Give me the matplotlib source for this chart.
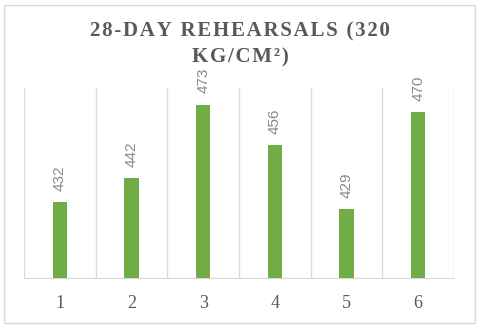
import matplotlib.pyplot as plt
from matplotlib.patches import Rectangle

# data
categories = ["1", "2", "3", "4", "5", "6"]
values = [432, 442, 473, 456, 429, 470]
title_lines = ["28-DAY REHEARSALS (320", "KG/CM²)"]

fig = plt.figure(figsize=(4.8, 3.28), dpi=100)
ax = fig.add_axes([0.05, 0.152, 0.896, 0.58])

x = list(range(len(categories)))
ax.bar(x, values, width=0.2, color="#70ad47", zorder=3)

ax.set_xlim(-0.5, 5.5)
ax.set_ylim(400, 480)

# vertical grid lines between categories
for b in [i - 0.5 for i in range(len(categories) + 1)]:
    ax.axvline(b, color="#d9d9d9", lw=1, zorder=1)

for s in ["top", "left", "right"]:
    ax.spines[s].set_visible(False)
ax.spines["bottom"].set_color("#d9d9d9")
ax.set_yticks([])
ax.set_xticks(x)
ax.set_xticklabels(categories, family="Liberation Serif", fontsize=13, color="#595959")
ax.tick_params(axis="x", length=0, pad=12)

# rotated data labels
for xi, v in zip(x, values):
    ax.annotate(str(v), (xi, v), xytext=(0, 8), textcoords="offset points",
                rotation=90, ha="center", va="bottom", fontsize=11,
                family="Liberation Sans", color="#898989")

# title, slightly letter-spaced
def spaced(s):
    return "\u200a".join(s)

fig.text(0.5, 0.905, spaced(title_lines[0]),
         ha="center", va="center", fontsize=15, fontweight="bold",
         family=["Liberation Serif", "DejaVu Serif"], color="#595959")
fig.text(0.5, 0.826, spaced(title_lines[1]),
         ha="center", va="center", fontsize=15, fontweight="bold",
         family=["Liberation Serif", "DejaVu Serif"], color="#595959")

# outer chart border
fig.patches.append(Rectangle((0.008, 0.015), 0.982, 0.97, transform=fig.transFigure,
                             fill=False, edgecolor="#d9d9d9", lw=1))

fig.savefig("out.png", dpi=100)
